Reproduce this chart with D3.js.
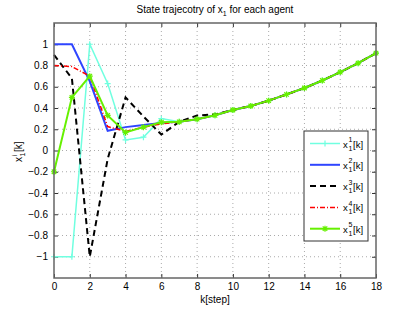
<!DOCTYPE html>
<html>
<head>
<meta charset="utf-8">
<script src="https://cdn.jsdelivr.net/npm/d3@7"></script>
<style>
  body { margin: 0; background: #fff; }
  svg { font-family: "Liberation Sans", Arial, sans-serif; }
</style>
</head>
<body>
<svg id="chart" width="415" height="313"></svg>
<script>
// steps k = 0..18
const steps = d3.range(0, 19);
const tail = [0.295, 0.331, 0.381, 0.419, 0.469, 0.528, 0.588, 0.659, 0.738, 0.822, 0.916];

const agent1 = [-1, -1, 1.0, 0.63, 0.10, 0.125, 0.30, 0.27].concat(tail);
const agent2 = [1, 1, 0.65, 0.185, 0.22, 0.24, 0.26, 0.27].concat(tail);
const agent3 = [0.9, 0.68, -1.0, -0.08, 0.5, 0.32, 0.15, 0.27, 0.33, 0.34].concat(tail.slice(2));
const agent4 = [0.8, 0.79, 0.7, 0.225, 0.18, 0.22, 0.25, 0.27].concat(tail);
const agent5 = [-0.2, 0.5, 0.7, 0.33, 0.17, 0.22, 0.266, 0.27].concat(tail);

const xTicks = d3.range(0, 19, 2);
const yTicks = [-1, -0.8, -0.6, -0.4, -0.2, 0, 0.2, 0.4, 0.6, 0.8, 1];

const series = [
  {n: 1, values: agent1, color: '#70ffe0', dash: null, marker: 'plus', width: 1.5},
  {n: 2, values: agent2, color: '#2f45ff', dash: null, marker: null, width: 2},
  {n: 3, values: agent3, color: '#000000', dash: '6,4', marker: null, width: 2},
  {n: 4, values: agent4, color: '#ff0000', dash: '5,2,1,2', marker: null, width: 1.5},
  {n: 5, values: agent5, color: '#66f000', dash: null, marker: 'star', width: 2}
];

const margin = {top: 23, right: 39, bottom: 35, left: 54},
  width = 415 - margin.left - margin.right,
  height = 313 - margin.top - margin.bottom;

const svg = d3.select('#chart');
const g = svg.append('g').attr('transform', 'translate(' + margin.left + ',' + margin.top + ')');

const x = d3.scaleLinear().domain([0, 18]).range([0, width]);
const y = d3.scaleLinear().domain([-1.2, 1.2]).range([height, 0]);

// grid
g.append('g').selectAll('line').data(xTicks.slice(1, -1)).enter().append('line')
  .attr('x1', d => x(d)).attr('x2', d => x(d)).attr('y1', 0).attr('y2', height)
  .attr('stroke', '#aaa').attr('stroke-dasharray', '1,3').attr('stroke-width', 1);
g.append('g').selectAll('line').data(yTicks).enter().append('line')
  .attr('x1', 0).attr('x2', width).attr('y1', d => y(d)).attr('y2', d => y(d))
  .attr('stroke', '#aaa').attr('stroke-dasharray', '1,3').attr('stroke-width', 1);

// axes with inward ticks
const axisStyle = sel => {
  sel.select('.domain').remove();
  sel.selectAll('.tick line').attr('stroke', '#333');
  sel.selectAll('.tick text').attr('font-size', 10).attr('fill', '#000');
};
g.append('g').attr('transform', 'translate(0,' + height + ')')
  .call(d3.axisBottom(x).tickValues(xTicks).tickSizeInner(-4).tickSizeOuter(0).tickPadding(5))
  .call(axisStyle);
g.append('g')
  .call(d3.axisTop(x).tickValues(xTicks).tickSizeInner(-4).tickSizeOuter(0).tickFormat(''))
  .call(axisStyle);
g.append('g')
  .call(d3.axisLeft(y).tickValues(yTicks).tickSizeInner(-4).tickSizeOuter(0).tickPadding(6)
    .tickFormat(d => d3.format('~g')(d).replace('-', '\u2212')))
  .call(axisStyle);
g.append('g').attr('transform', 'translate(' + width + ',0)')
  .call(d3.axisRight(y).tickValues(yTicks).tickSizeInner(-4).tickSizeOuter(0).tickFormat(''))
  .call(axisStyle);

// lines
const line = d3.line().x((d, i) => x(steps[i])).y(d => y(d));

function drawMarker(sel, type, color, cx, cy) {
  const s = 3;
  if (type === 'plus') {
    sel.append('path').attr('d', `M${cx - s},${cy}H${cx + s}M${cx},${cy - s}V${cy + s}`)
      .attr('stroke', color).attr('stroke-width', 1.2).attr('fill', 'none');
  } else if (type === 'star') {
    sel.append('path').attr('d', `M${cx - s},${cy}H${cx + s}M${cx},${cy - s}V${cy + s}` +
      `M${cx - s * 0.75},${cy - s * 0.75}L${cx + s * 0.75},${cy + s * 0.75}` +
      `M${cx - s * 0.75},${cy + s * 0.75}L${cx + s * 0.75},${cy - s * 0.75}`)
      .attr('stroke', color).attr('stroke-width', 1.2).attr('fill', 'none');
  }
}

series.forEach(s => {
  const sg = g.append('g');
  sg.append('path').datum(s.values)
    .attr('d', line)
    .attr('fill', 'none')
    .attr('stroke', s.color)
    .attr('stroke-width', s.width)
    .attr('stroke-dasharray', s.dash);
  if (s.marker) {
    s.values.forEach((v, i) => drawMarker(sg, s.marker, s.color, x(steps[i]), y(v)));
  }
});

// box
g.append('rect').attr('width', width).attr('height', height)
  .attr('fill', 'none').attr('stroke', '#666').attr('stroke-width', 1.5);

// title
const title = svg.append('text').attr('x', 215).attr('y', 13).attr('text-anchor', 'middle')
  .attr('font-size', 10).attr('fill', '#000');
title.append('tspan').text('State trajecotry of x');
title.append('tspan').attr('font-size', 7).attr('dy', 3).text('1');
title.append('tspan').attr('dy', -3).text(' for each agent');

// x label
svg.append('text').attr('x', 215).attr('y', 303).attr('text-anchor', 'middle')
  .attr('font-size', 10).text('k[step]');

// y label
const yl = svg.append('g').attr('transform', 'translate(22,152) rotate(-90)');
yl.append('text').attr('x', -10).attr('y', 0).attr('font-size', 10).text('x');
yl.append('text').attr('x', -4.5).attr('y', 3).attr('font-size', 7).text('1');
yl.append('text').attr('x', -4.5).attr('y', -5).attr('font-size', 7).text('i');
yl.append('text').attr('x', 0).attr('y', 0).attr('font-size', 10).text('[k]');

// legend
const lg = svg.append('g').attr('transform', 'translate(304,131)');
lg.append('rect').attr('width', 64).attr('height', 110)
  .attr('fill', '#fff').attr('stroke', '#333').attr('stroke-width', 1);
series.forEach((s, i) => {
  const ly = 12.5 + i * 21.3;
  lg.append('line').attr('x1', 6).attr('x2', 36).attr('y1', ly).attr('y2', ly)
    .attr('stroke', s.color).attr('stroke-width', s.width).attr('stroke-dasharray', s.dash);
  if (s.marker) drawMarker(lg, s.marker, s.color, 21, ly);
  lg.append('text').attr('x', 39).attr('y', ly + 4).attr('font-size', 9.5).text('x');
  lg.append('text').attr('x', 44.5).attr('y', ly + 7).attr('font-size', 7).text('1');
  lg.append('text').attr('x', 44.5).attr('y', ly - 1.5).attr('font-size', 7).text(s.n);
  lg.append('text').attr('x', 49).attr('y', ly + 4).attr('font-size', 9.5).text('[k]');
});
</script>
</body>
</html>
